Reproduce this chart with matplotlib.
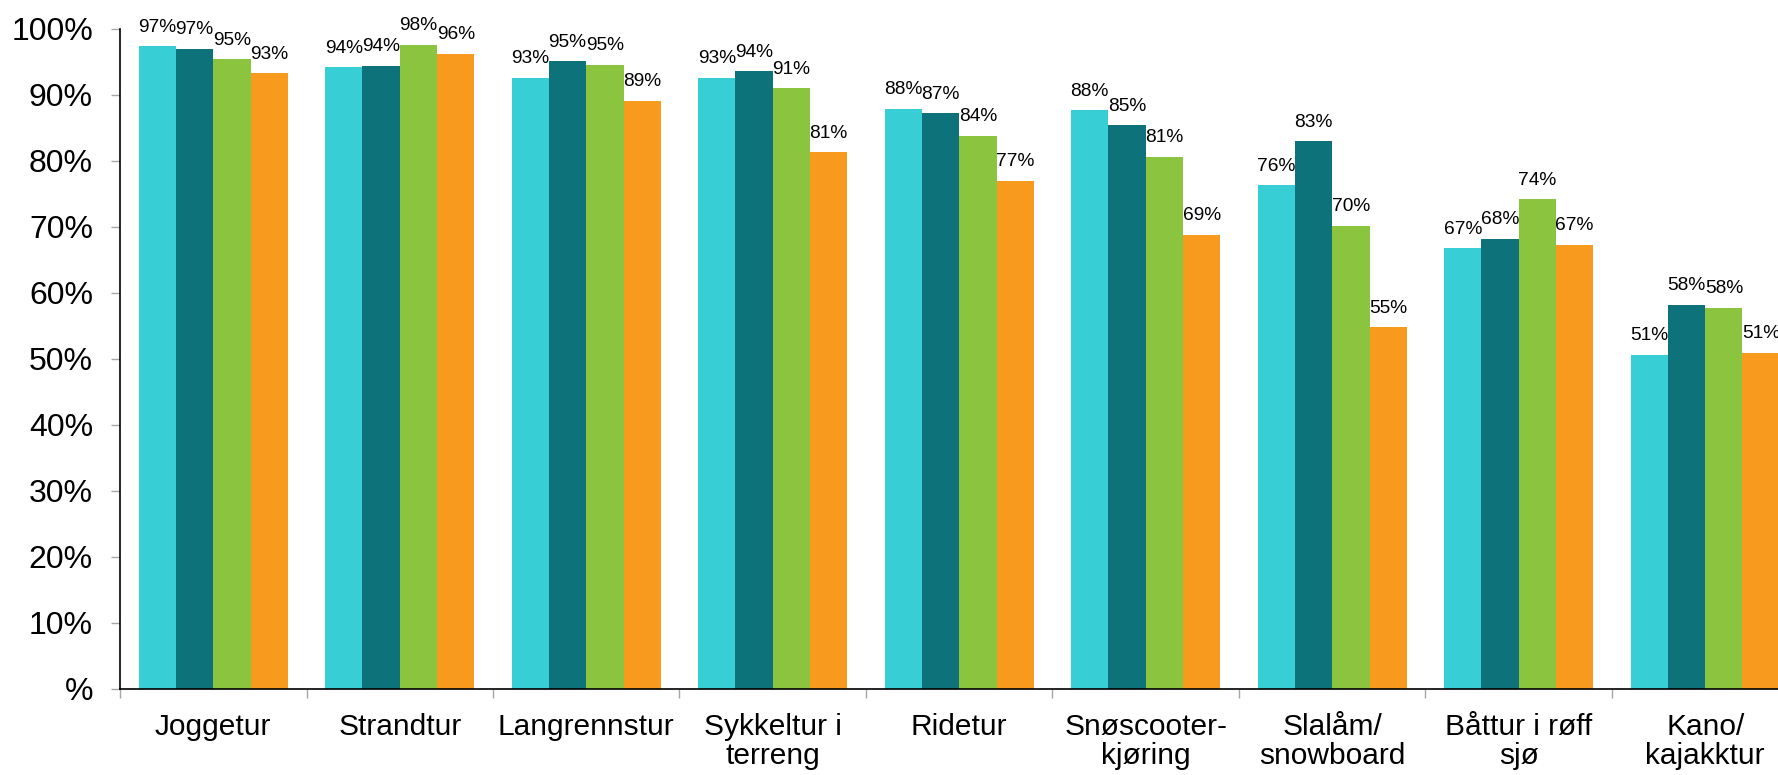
import numpy as np
import matplotlib
matplotlib.use('Agg')
import matplotlib.pyplot as plt
from matplotlib.ticker import FixedLocator

plt.rcParams['font.family'] = ['Liberation Sans', 'DejaVu Sans']

# Kategorier og verdier (prosent)
kategorier = ['Joggetur', 'Strandtur', 'Langrennstur', 'Sykkeltur i\nterreng', 'Ridetur',
              'Snøscooter-\nkjøring', 'Slalåm/\nsnowboard', 'Båttur i røff\nsjø', 'Kano/\nkajakktur']
serie1 = [97.4, 94.2, 92.6, 92.6, 87.9, 87.7, 76.3, 66.8, 50.6]
serie2 = [97.0, 94.4, 95.1, 93.6, 87.2, 85.4, 83.0, 68.2, 58.2]
serie3 = [95.4, 97.6, 94.6, 91.0, 83.8, 80.6, 70.2, 74.2, 57.8]
serie4 = [93.3, 96.2, 89.1, 81.3, 77.0, 68.8, 54.8, 67.3, 50.9]
farger = ['#38CED6', '#0E727B', '#8BC540', '#F79A1E']
ytikk = ['%', '10%', '20%', '30%', '40%', '50%', '60%', '70%', '80%', '90%', '100%']

fig = plt.figure(figsize=(17.78, 7.75), dpi=100)
ax = fig.add_axes([0.0675, 0.111, 0.944, 0.8516])

x = np.arange(len(kategorier))
bredde = 0.2
for i, (verdier, farge) in enumerate(zip([serie1, serie2, serie3, serie4], farger)):
    pos = x + (i - 1.5) * bredde
    ax.bar(pos, verdier, width=bredde, color=farge, edgecolor='none', zorder=2)
    for px, v in zip(pos, verdier):
        ax.annotate(f'{v:.0f}%', (px, v), xytext=(0, 10.5), textcoords='offset points',
                    ha='center', va='baseline', fontsize=13.8, color='black')

ax.set_xlim(-0.5, len(kategorier) - 0.5)
ax.set_ylim(0, 100)

# Y-akse
ax.set_yticks(np.arange(0, 101, 10))
ax.set_yticklabels(ytikk, fontsize=23)
ax.tick_params(axis='y', length=6.5, width=1, color='#A6A6A6', pad=13)

# X-akse: etiketter midt i gruppene, tikkmerker mellom gruppene
ax.set_xticks(x)
ax.set_xticklabels(kategorier, fontsize=21.5, linespacing=1.08)
ax.tick_params(axis='x', which='major', length=0, pad=17)
ax.xaxis.set_minor_locator(FixedLocator(np.arange(-0.5, len(kategorier), 1.0)))
ax.tick_params(axis='x', which='minor', length=6.5, width=1, color='#A6A6A6')

for s in ['top', 'right']:
    ax.spines[s].set_visible(False)
ax.spines['left'].set_linewidth(1.2)
ax.spines['bottom'].set_linewidth(1.2)

fig.savefig('out.png', dpi=100)
